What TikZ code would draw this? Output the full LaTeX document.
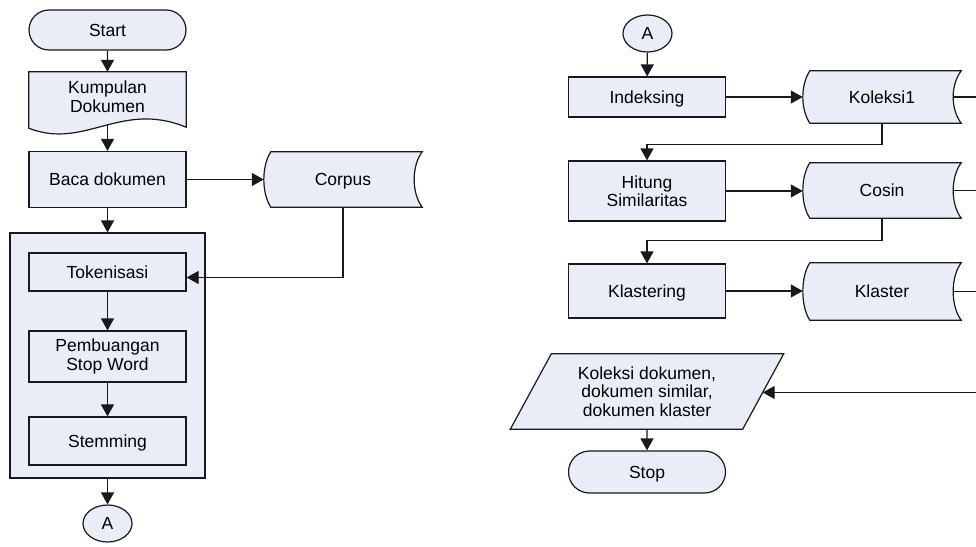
\documentclass[tikz,border=0pt]{standalone}
\usepackage{fontspec}
\setmainfont{Liberation Sans}
\usetikzlibrary{arrows.meta,shapes.geometric,shapes.misc,backgrounds,calc}
\definecolor{boxfill}{RGB}{232,237,247}
\definecolor{edge}{RGB}{25,25,25}

% outline of a stored-data symbol around a text-only node
\newcommand\datastoreoutline[1]{%
  \path[shapefill] ([xshift=7pt]#1.north west) -- (#1.north east)
    .. controls +(-10.7,14) and +(-10.7,-14) .. (#1.south east)
    -- ([xshift=7pt]#1.south west)
    .. controls +(-9.3,-14) and +(-9.3,14) .. ([xshift=7pt]#1.north west) -- cycle;}

\begin{document}
\begin{tikzpicture}[x=1pt,y=-1pt,
  every node/.style={font=\fontsize{17.5}{18.5}\selectfont, text=black},
  oneline/.style={text depth=0pt},
  shapefill/.style={draw=edge, fill=boxfill, line width=1.2pt},
  procbox/.style={shapefill, rectangle, minimum width=157pt, inner sep=0pt, align=center},
  termbox/.style={shapefill, rounded rectangle, minimum width=157pt, inner sep=0pt, oneline},
  textonly/.style={rectangle, inner sep=0pt, align=center},
  offpage/.style={shapefill, ellipse, minimum width=49pt, minimum height=37pt, inner sep=0pt},
  flow/.style={draw=edge, line width=1.2pt, -{Triangle[length=12pt,width=13pt]}},
  plainline/.style={draw=edge, line width=1.2pt}
]
\useasboundingbox (0,0) rectangle (976,546);
\clip (0,0) rectangle (976,546);

% ---- left column: preprocessing ----
\node[termbox, minimum height=40pt] (start) at (107.5,30) {Start};
\node[textonly, minimum width=157pt, minimum height=49pt] (doc) at (107.5,96.5) {Kumpulan\\Dokumen};
\coordinate (docb) at ([yshift=-3.7pt]doc.south);
\node[procbox, oneline, minimum height=56pt] (baca) at (107.5,179.5) {Baca dokumen};
\node[textonly, oneline, minimum width=158pt, minimum height=55pt] (corpus) at (343,179.5) {Corpus};
\node[shapefill, rectangle, minimum width=195pt, minimum height=245pt] (grp) at (107.5,355.5) {};
\node[procbox, oneline, minimum height=38pt] (tok) at (107.5,272) {Tokenisasi};
\node[procbox, minimum height=51pt] (swr) at (107.5,356.5) {Pembuangan\\Stop Word};
\node[procbox, oneline, minimum height=48pt] (stem) at (107.5,441) {Stemming};
\node[offpage] (ca) at (107.5,523.5) {A};

% ---- right column: indexing and clustering ----
\node[offpage] (cb) at (647.5,33.5) {A};
\node[procbox, oneline, minimum height=40pt] (idx) at (647,97) {Indeksing};
\node[textonly, oneline, minimum width=158pt, minimum height=52pt] (kol) at (882,97) {Koleksi1};
\node[procbox, minimum height=60pt] (sim) at (647,191) {Hitung\\Similaritas};
\node[textonly, oneline, minimum width=158pt, minimum height=55pt] (cos) at (882,190.5) {Cosin};
\node[procbox, oneline, minimum height=54pt] (kls) at (647,291) {Klastering};
\node[textonly, oneline, minimum width=158pt, minimum height=57pt] (klr) at (882,291.5) {Klaster};
\node[textonly, minimum width=232pt, minimum height=75pt] (out) at (647,391.5) {Koleksi dokumen,\\dokumen similar,\\dokumen klaster};
\node[termbox, minimum height=42pt] (end) at (647,472) {Stop};

% ---- outlines of the special symbols ----
\begin{scope}[on background layer]
  \path[shapefill] (doc.north west) -- (doc.north east) -- ([yshift=-6pt]doc.south east)
    .. controls +(-66,-27) and +(56,22) .. ([yshift=-7pt]doc.south west) -- cycle;
  \datastoreoutline{corpus}
  \datastoreoutline{kol}
  \datastoreoutline{cos}
  \datastoreoutline{klr}
  \path[shapefill] ([xshift=20.5pt]out.north west) -- ([xshift=20.5pt]out.north east)
    -- ([xshift=-20.5pt]out.south east) -- ([xshift=-20.5pt]out.south west) -- cycle;
\end{scope}

% ---- connectors, left ----
\draw[flow] (start) -- (doc);
\draw[flow] (docb) -- (baca);
\draw[flow] (baca) -- (corpus);
\draw[flow] (corpus.south) |- ($(tok.east)+(0,5.5)$);
\draw[flow] (baca) -- (grp);
\draw[flow] (tok) -- (swr);
\draw[flow] (swr) -- (stem);
\draw[flow] (grp) -- (ca);

% ---- connectors, right ----
\coordinate (bus) at (1000,392.5);
\draw[flow] (cb) -- (idx);
\draw[flow] (idx) -- (kol);
\draw[flow] (kol.south) -- ++(0,21) -| (sim.north);
\draw[flow] (sim.east) -- (sim.east -| cos.west);
\draw[flow] (cos.south) -- ++(0,22) -| (kls.north);
\draw[flow] (kls.east) -- (kls.east -| klr.west);
\draw[plainline] ([xshift=-8pt]kol.east) -| (bus);
\draw[plainline] ([xshift=-8pt]cos.east) -| (bus);
\draw[plainline] ([xshift=-8pt]klr.east) -| (bus);
\draw[flow] (bus) -- ([xshift=-0.5pt,yshift=-1pt]out.east);
\draw[flow] (out) -- (end);
\end{tikzpicture}
\end{document}
